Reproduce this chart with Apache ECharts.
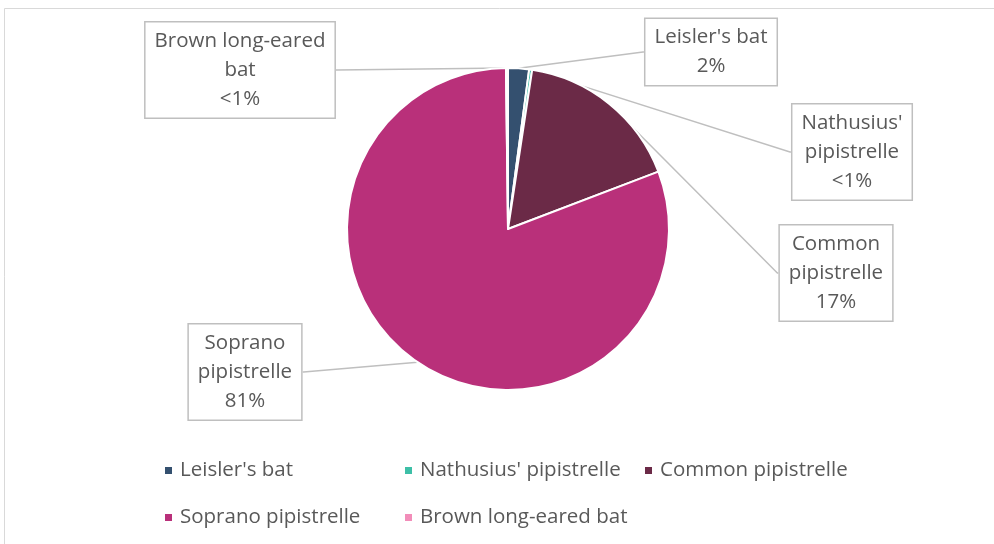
<!DOCTYPE html>
<html>
<head>
<meta charset="utf-8">
<script src="https://cdn.jsdelivr.net/npm/echarts@6/dist/echarts.min.js"></script>
<style>
    html, body { margin: 0; padding: 0; background: #fff; }
    #chart { width: 994px; height: 544px; }
</style>
</head>
<body>
<div id="chart"></div>
<script>
    // bat species share of recorded passes (%)
    var species = ["Leisler's bat", "Nathusius' pipistrelle", "Common pipistrelle", "Soprano pipistrelle", "Brown long-eared bat"];
    var shares = [2.1, 0.3, 16.8, 80.6, 0.2];
    var labelNames = ["Leisler's bat", "Nathusius'\npipistrelle", "Common\npipistrelle", "Soprano\npipistrelle", "Brown long-eared\nbat"];

    var colors = ['#34506F', '#3DBFA7', '#6B2A47', '#B9307A', '#F28DB9'];
    // label box centres (px), Excel placed these by hand
    var labelPos = [[711, 52], [852, 152], [836, 273], [245, 372], [240, 70]];

    var font = 'Open Sans';
    var myChart = echarts.init(document.getElementById('chart'));

    var data = species.map(function(name, i){
        return { name: name, value: shares[i], itemStyle: { color: colors[i] } };
    });

    var option = {
        animation: false,
        graphic: [{
            type: 'rect',
            shape: { x: 4.5, y: 8.5, width: 1100, height: 700 },
            style: { fill: 'none', stroke: '#D9D9D9', lineWidth: 1 },
            silent: true
        }],
        legend: [
            { data: [species[0], species[3]], left: 158, top: 455 },
            { data: [species[1], species[4]], left: 398, top: 455 },
            { data: [species[2]], left: 638, top: 455 }
        ].map(function(l){
            l.orient = 'vertical';
            l.itemGap = 26;
            l.itemWidth = 9;
            l.itemHeight = 9;
            l.icon = 'rect';
            l.textStyle = { color: '#595959', fontSize: 20.5, fontFamily: font, padding: [0, 0, 0, 2] };
            return l;
        }),
        series: [{
            type: 'pie',
            center: [508, 229],
            radius: 161,
            startAngle: 90,
            clockwise: true,
            avoidLabelOverlap: false,
            data: data,
            itemStyle: { borderColor: '#fff', borderWidth: 2 },
            label: {
                show: true,
                formatter: function(p){
                    var pct = p.value < 1 ? '<1%' : Math.round(p.value) + '%';
                    return labelNames[p.dataIndex] + '\n' + pct;
                },
                color: '#595959',
                fontSize: 20.5,
                fontFamily: font,
                lineHeight: 29,
                align: 'center',
                backgroundColor: '#fff',
                borderColor: '#BFBFBF',
                borderWidth: 1.5,
                padding: [4, 9]
            },
            labelLine: {
                show: true,
                length: 1,
                length2: 1,
                lineStyle: { color: '#BFBFBF', width: 1.5 }
            },
            labelLayout: function(params){
                var p = labelPos[params.dataIndex];
                return { x: p[0], y: p[1], align: 'center', verticalAlign: 'middle' };
            }
        }]
    };
    myChart.setOption(option);
</script>
</body>
</html>
